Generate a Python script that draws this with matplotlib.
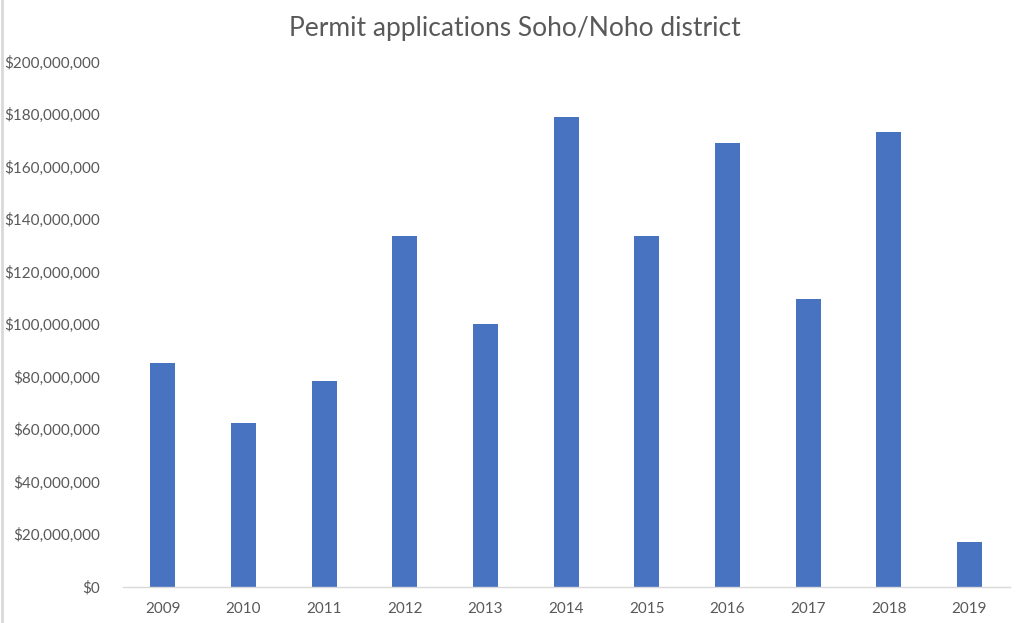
import matplotlib.pyplot as plt
from matplotlib.lines import Line2D
from matplotlib.ticker import FuncFormatter

years = ["2009", "2010", "2011", "2012", "2013", "2014", "2015", "2016", "2017", "2018", "2019"]
amounts = [85.1e6, 62.2e6, 78.5e6, 133.6e6, 100.1e6, 178.8e6, 133.7e6, 168.9e6, 109.5e6, 173.4e6, 16.9e6]
yticks = [0, 20e6, 40e6, 60e6, 80e6, 100e6, 120e6, 140e6, 160e6, 180e6, 200e6]

plt.rcParams['font.family'] = ['Lato', 'DejaVu Sans']
txt = "#595959"

fig = plt.figure(figsize=(10.24, 6.23), dpi=100)
ax = fig.add_axes([0.1197, 0.0584, 0.8663, 0.8424])

ax.bar(range(len(years)), amounts, width=0.31, color="#4873C0")

ax.set_xlim(-0.5, len(years) - 0.5)
ax.set_ylim(0, 200e6)
ax.set_xticks(range(len(years)))
ax.set_xticklabels(years)
ax.set_yticks(yticks)
ax.yaxis.set_major_formatter(FuncFormatter(lambda v, p: "${:,.0f}".format(v)))

for s in ["top", "right", "left"]:
    ax.spines[s].set_visible(False)
ax.spines["bottom"].set_color("#D9D9D9")
ax.spines["bottom"].set_linewidth(1)
ax.tick_params(axis="both", length=0, colors=txt, labelsize=11)
ax.tick_params(axis="x", pad=11)
ax.tick_params(axis="y", pad=16)

fig.text(0.503, 0.955, "Permit applications Soho/Noho district", ha="center", va="center",
         fontsize=19, color=txt)

# chart border on the left edge
fig.add_artist(Line2D([0.0015, 0.0015], [0, 1], transform=fig.transFigure, color="#D9D9D9", lw=2))

plt.savefig("out.png", dpi=100)
